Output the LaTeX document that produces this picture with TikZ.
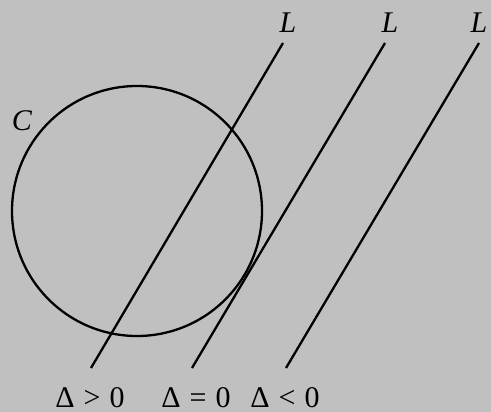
\documentclass[tikz,border=0pt]{standalone}
\usepackage{fontspec}
\setmainfont{Liberation Serif}
\definecolor{bgGray}{RGB}{192,192,192}
\usepackage{tikz}
\usetikzlibrary{positioning}
\newcommand{\rel}[1]{\hspace{0.3em}#1\hspace{0.3em}}

\begin{document}
\begin{tikzpicture}[x=1pt, y=-1pt,
    curve/.style={draw=black, line width=2.3pt},
    lbl/.style={anchor=base, inner sep=0pt, font=\fontsize{30}{34}\selectfont}
  ]
  \fill[bgGray] (0,0) rectangle (491,412);
  \useasboundingbox (0,0) rectangle (491,412);

  % the circle C
  \node[circle, curve, minimum size=250pt, inner sep=0pt] (circ) at (137,211) {};
  \node[lbl] (labC) at (22,131) {\itshape C};

  % the three lines L
  \coordinate (topA) at (283,43);  \coordinate (botA) at (91,368);
  \coordinate (topB) at (385,43);  \coordinate (botB) at (192,368);
  \coordinate (topC) at (479,43);  \coordinate (botC) at (286,368);
  \draw[curve] (botA) -- (topA);
  \draw[curve] (botB) -- (topB);
  \draw[curve] (botC) -- (topC);

  \node[lbl] (labLA) at (288,33) {\itshape L};
  \node[lbl] (labLB) at (390,33) {\itshape L};
  \node[lbl] (labLC) at (479,33) {\itshape L};

  \node[lbl] (gtA) at (90,407)  {Δ\rel{>}0};
  \node[lbl] (eqB) at (196,407) {Δ\rel{=}0};
  \node[lbl] (ltC) at (285,407) {Δ\rel{<}0};
\end{tikzpicture}
\end{document}
